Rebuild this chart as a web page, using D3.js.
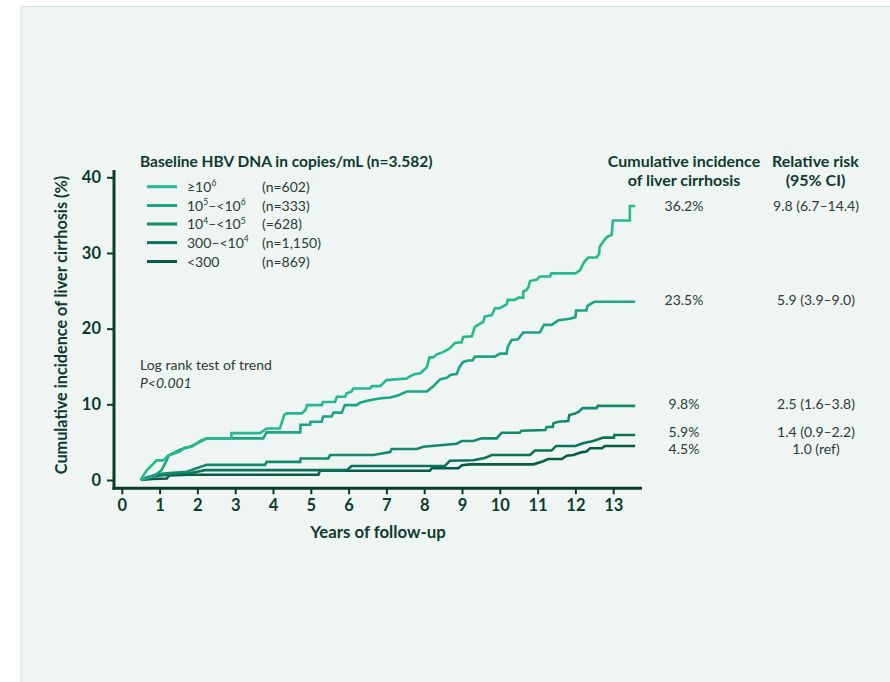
<!DOCTYPE html>
<html>
<head>
<meta charset="utf-8">
<script src="https://cdn.jsdelivr.net/npm/d3@7"></script>
<style>
  html, body { margin: 0; padding: 0; background: #ffffff; }
  svg { display: block; font-family: Lato, "Open Sans", sans-serif; }
</style>
</head>
<body>
<svg id="chart" width="890" height="682"></svg>
<script>
// ---------------- DATA ----------------
const groupLabels = ["≥10^6", "10^5–<10^6", "10^4–<10^5", "300–<10^4", "<300"];
const groupCounts = ["(n=602)", "(n=333)", "(=628)", "(n=1,150)", "(n=869)"];
const cumIncidence = ["36.2%", "23.5%", "9.8%", "5.9%", "4.5%"];
const relRisk = ["9.8 (6.7–14.4)", "5.9 (3.9–9.0)", "2.5 (1.6–3.8)", "1.4 (0.9–2.2)", "1.0 (ref)"];
const xTicks = [0,1,2,3,4,5,6,7,8,9,10,11,12,13];
const yTicks = [0,10,20,30,40];

// [years, cumulative incidence %]
const curveHigh = [[0.5,0],[0.65,1.2],[0.92,2.6],[1.1,2.6],[1.22,3.2],[1.32,3.4],[1.54,3.8],[1.67,4.3],[1.85,4.4],[2.07,5.15],[2.25,5.5],[2.9,5.5],[2.9,6.2],[3.66,6.2],[3.83,6.8],[4.18,6.8],[4.3,8.6],[4.36,8.8],[4.76,8.8],[4.86,9.25],[4.9,9.9],[5.29,9.9],[5.32,10.3],[5.64,10.3],[5.69,11.0],[5.9,11.0],[5.95,11.45],[6.08,11.7],[6.12,12.1],[6.57,12.1],[6.62,12.4],[6.83,12.4],[6.92,12.8],[7.0,13.2],[7.54,13.4],[7.62,13.7],[7.76,14.0],[7.9,14.1],[8.07,14.9],[8.14,16.2],[8.24,16.2],[8.33,16.6],[8.5,16.9],[8.68,17.4],[8.81,18.1],[8.99,18.2],[9.03,18.9],[9.26,19.0],[9.34,20.25],[9.56,20.9],[9.6,21.6],[9.79,21.8],[9.87,22.7],[10.0,22.7],[10.18,23.2],[10.21,23.8],[10.4,23.8],[10.49,24.1],[10.62,24.1],[10.62,24.9],[10.71,25.1],[10.76,25.5],[10.8,26.3],[10.98,26.5],[11.06,26.9],[11.33,26.9],[11.37,27.3],[12.0,27.3],[12.12,27.7],[12.23,28.8],[12.34,29.4],[12.56,29.4],[12.63,29.9],[12.64,30.8],[12.75,31.6],[12.83,32.1],[12.96,32.4],[12.99,34.3],[13.44,34.3],[13.44,36.2],[13.58,36.2]];
const curveMidHigh = [[0.5,0],[0.83,0.44],[1.05,1.3],[1.19,2.6],[1.23,3.2],[1.54,4.0],[1.67,4.2],[1.8,4.4],[1.98,4.8],[2.25,5.5],[3.74,5.5],[3.83,6.3],[4.72,6.3],[4.73,7.3],[4.98,7.3],[4.99,7.7],[5.29,7.7],[5.33,8.4],[5.55,8.4],[5.6,8.9],[5.82,8.9],[5.9,9.9],[6.21,9.9],[6.3,10.2],[6.52,10.5],[6.74,10.7],[6.87,10.8],[7.1,10.9],[7.32,11.2],[7.54,11.7],[8.07,11.7],[8.24,12.4],[8.42,13.3],[8.6,13.5],[8.7,13.9],[8.86,14.0],[8.93,14.9],[9.03,15.6],[9.16,15.8],[9.28,15.8],[9.34,16.3],[9.87,16.3],[10.0,16.7],[10.18,16.7],[10.21,17.6],[10.31,18.5],[10.48,18.6],[10.62,19.5],[11.06,19.5],[11.17,20.5],[11.37,20.5],[11.55,21.1],[11.85,21.3],[12.0,21.5],[12.02,22.4],[12.29,22.4],[12.32,23.0],[12.5,23.55],[13.58,23.55]];
const curveMid = [[0.5,0],[0.92,0.75],[1.19,0.9],[1.72,1.1],[1.98,1.55],[2.25,2.0],[3.79,2.0],[3.83,2.4],[4.72,2.4],[4.73,2.85],[5.46,2.85],[5.51,3.3],[6.65,3.3],[7.1,3.7],[7.14,4.1],[7.8,4.1],[7.98,4.4],[8.42,4.6],[8.86,4.8],[8.99,5.15],[9.3,5.15],[9.52,5.5],[9.92,5.5],[10.05,6.25],[10.53,6.25],[10.57,6.5],[11.2,6.6],[11.24,7.0],[11.4,7.0],[11.42,7.5],[11.55,7.7],[11.81,7.8],[11.84,8.6],[11.99,8.8],[12.08,9.0],[12.19,9.5],[12.56,9.5],[12.59,9.8],[13.58,9.8]];
const curveLowMid = [[0.5,0],[0.7,0.4],[1.0,0.6],[1.5,0.8],[1.8,0.9],[2.0,1.1],[2.2,1.3],[5.95,1.3],[6.08,1.85],[8.55,1.85],[8.68,2.55],[9.3,2.6],[9.6,2.9],[9.79,3.3],[10.8,3.3],[10.93,3.9],[11.37,3.9],[11.49,4.5],[12.0,4.5],[12.2,4.85],[12.47,5.15],[12.74,5.6],[13.02,5.6],[13.03,5.95],[13.58,5.95]];
const curveLow = [[0.5,0],[0.8,0.15],[1.19,0.2],[1.25,0.6],[1.8,0.7],[5.2,0.7],[5.24,1.23],[8.15,1.23],[8.2,1.55],[8.9,1.55],[9.0,1.95],[9.21,2.07],[10.89,2.07],[11.11,2.4],[11.28,2.77],[11.64,2.77],[11.77,3.2],[11.95,3.3],[12.15,3.65],[12.29,3.75],[12.39,4.2],[12.7,4.2],[12.78,4.5],[13.58,4.5]];

const curves = [curveHigh, curveMidHigh, curveMid, curveLowMid, curveLow];
const colors = ["#24b98f", "#1ca483", "#138b6b", "#0c7358", "#085c46"];

// ---------------- DRAW ----------------
const svg = d3.select("#chart");
const ink = "#0e3a2e";
const txt = "#2b3b36";

svg.append("rect").attr("x", 21).attr("y", 6.5).attr("width", 880).attr("height", 690)
  .attr("fill", "#eef5f3").attr("stroke", "#cfe4dd").attr("stroke-width", 1.2);

const x = d3.scaleLinear().domain([0, 13]).range([121.8, 613.2]);
const y = d3.scaleLinear().domain([0, 40]).range([480, 177.3]);

// Curves (draw darkest first so lighter lines sit on top)
const line = d3.line().x(d => x(d[0])).y(d => y(d[1])).curve(d3.curveLinear);
const curveG = svg.append("g");
for (let i = curves.length - 1; i >= 0; i--) {
  curveG.append("path").datum(curves[i]).attr("d", line)
    .attr("fill", "none").attr("stroke", colors[i]).attr("stroke-width", 2.6)
    .attr("stroke-linejoin", "miter");
}

// Axes
const xAxis = d3.axisBottom(x).tickValues(xTicks).tickSize(6).tickSizeOuter(0).tickPadding(5);
const gx = svg.append("g").attr("transform", "translate(0,488.3)").call(xAxis);
gx.select(".domain").remove();
gx.append("line").attr("x1", 112.5).attr("x2", 642).attr("y1", 0).attr("y2", 0)
  .attr("stroke", ink).attr("stroke-width", 3);
gx.selectAll(".tick line").attr("stroke", ink).attr("stroke-width", 2);
gx.selectAll(".tick text").attr("fill", ink).attr("font-size", 16.5).attr("font-weight", 700)
  .attr("font-family", "Lato, sans-serif");

const yAxis = d3.axisLeft(y).tickValues(yTicks).tickSize(7).tickSizeOuter(0).tickPadding(6);
const gy = svg.append("g").attr("transform", "translate(114,0)").call(yAxis);
gy.select(".domain").remove();
gy.append("line").attr("x1", 0).attr("x2", 0).attr("y1", 170).attr("y2", 489.8)
  .attr("stroke", ink).attr("stroke-width", 3);
gy.selectAll(".tick line").attr("stroke", ink).attr("stroke-width", 2);
gy.selectAll(".tick text").attr("fill", ink).attr("font-size", 16.5).attr("font-weight", 700)
  .attr("font-family", "Lato, sans-serif");

// Axis titles
svg.append("text").attr("x", 378).attr("y", 537.5).attr("text-anchor", "middle")
  .attr("fill", ink).attr("font-size", 16.8).attr("font-weight", 700).text("Years of follow-up");
svg.append("text").attr("transform", "translate(67,325) rotate(-90)").attr("text-anchor", "middle")
  .attr("fill", ink).attr("font-size", 16.2).attr("font-weight", 700)
  .text("Cumulative incidence of liver cirrhosis (%)");

// Legend
svg.append("text").attr("x", 140).attr("y", 167).attr("fill", ink)
  .attr("font-size", 15.5).attr("font-weight", 700).text("Baseline HBV DNA in copies/mL (n=3.582)");

const rowY = [186.7, 205.5, 224, 242.6, 261.5];
groupLabels.forEach((lab, i) => {
  svg.append("line").attr("x1", 147).attr("x2", 177).attr("y1", rowY[i]).attr("y2", rowY[i])
    .attr("stroke", colors[i]).attr("stroke-width", 3);
  const t = svg.append("text").attr("x", 187).attr("y", rowY[i] + 5)
    .attr("fill", txt).attr("font-size", 14);
  // split "^d" into superscripts
  const parts = lab.split(/(\^\d)/).filter(p => p.length);
  let pendingDy = 0;
  parts.forEach(p => {
    if (p.startsWith("^")) {
      t.append("tspan").attr("dy", -5.5).attr("font-size", 8.5).text(p.slice(1));
      pendingDy = 5.5;
    } else {
      t.append("tspan").attr("dy", pendingDy).text(p);
      pendingDy = 0;
    }
  });
  svg.append("text").attr("x", 262).attr("y", rowY[i] + 5)
    .attr("fill", txt).attr("font-size", 14).text(groupCounts[i]);
});

// Log rank note
svg.append("text").attr("x", 140).attr("y", 370).attr("fill", txt).attr("font-size", 14)
  .text("Log rank test of trend");
svg.append("text").attr("x", 140).attr("y", 388).attr("fill", txt).attr("font-size", 14)
  .attr("font-style", "italic").text("P<0.001");

// Right columns
svg.append("text").attr("x", 684).attr("y", 167).attr("text-anchor", "middle").attr("fill", ink)
  .attr("font-size", 16).attr("font-weight", 700).text("Cumulative incidence");
svg.append("text").attr("x", 684).attr("y", 186).attr("text-anchor", "middle").attr("fill", ink)
  .attr("font-size", 16).attr("font-weight", 700).text("of liver cirrhosis");
svg.append("text").attr("x", 815.5).attr("y", 167).attr("text-anchor", "middle").attr("fill", ink)
  .attr("font-size", 16).attr("font-weight", 700).text("Relative risk");
svg.append("text").attr("x", 815.5).attr("y", 186).attr("text-anchor", "middle").attr("fill", ink)
  .attr("font-size", 16).attr("font-weight", 700).text("(95% CI)");

const valY = [206, 300, 403.5, 432, 449];
cumIncidence.forEach((v, i) => {
  svg.append("text").attr("x", 684).attr("y", valY[i] + 5).attr("text-anchor", "middle")
    .attr("fill", txt).attr("font-size", 14).text(v);
  svg.append("text").attr("x", 816).attr("y", valY[i] + 5).attr("text-anchor", "middle")
    .attr("fill", txt).attr("font-size", 14).text(relRisk[i]);
});
</script>
</body>
</html>
